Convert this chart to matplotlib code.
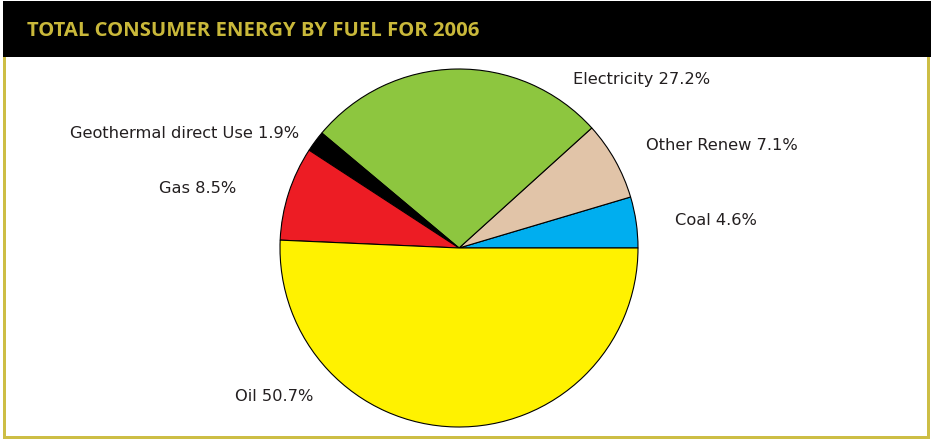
import matplotlib.pyplot as plt
from matplotlib.patches import Rectangle

# data
fuels = ["Coal", "Other Renew", "Electricity", "Geothermal direct Use", "Gas", "Oil"]
shares = [4.6, 7.1, 27.2, 1.9, 8.5, 50.7]
colors = ["#00AEEF", "#E1C4A8", "#8DC63F", "#000000", "#ED1C24", "#FFF200"]

# label spots, in pie-radius units from the centre
label_xy = [(1.436, 0.156), (1.469, 0.575), (1.022, 0.939),
            (-1.531, 0.642), (-1.458, 0.330), (-1.034, -0.827)]

W, H = 931, 440
fig = plt.figure(figsize=(W / 100, H / 100), dpi=100)
fig.patch.set_facecolor("white")

gold = "#CDBE45"

# ----- frame + header -----
def px_rect(x0, y0, x1, y1, color):
    # pixel box, y measured from top
    fig.patches.append(Rectangle((x0 / W, 1 - y1 / H), (x1 - x0) / W, (y1 - y0) / H,
                                 transform=fig.transFigure, color=color, lw=0, zorder=0))

px_rect(3, 56, 6, 439, gold)       # left
px_rect(927, 56, 930, 439, gold)   # right
px_rect(3, 436, 930, 439, gold)    # bottom
px_rect(3, 1, 931, 57, "black")    # header bar

fig.text(27 / W, 1 - 31 / H, "TOTAL CONSUMER ENERGY BY FUEL FOR 2006",
         color="#C9B83A", fontsize=14.6, fontweight="bold", family="Open Sans",
         ha="left", va="center")

# ----- pie -----
cx, cy, r = 459, 248, 179
ax = fig.add_axes([(cx - r) / W, (H - cy - r) / H, 2 * r / W, 2 * r / H])
ax.pie(shares, colors=colors, startangle=0, counterclock=True,
       wedgeprops=dict(edgecolor="black", linewidth=0.8))
ax.set_xlim(-1, 1)
ax.set_ylim(-1, 1)
ax.set_aspect("equal")

for name, val, (lx, ly) in zip(fuels, shares, label_xy):
    ax.text(lx, ly, f"{name} {val}%", ha="center", va="center",
            fontsize=11.7, color="#231F20", clip_on=False)

ax.axis("off")
fig.savefig("out.png", dpi=100)
